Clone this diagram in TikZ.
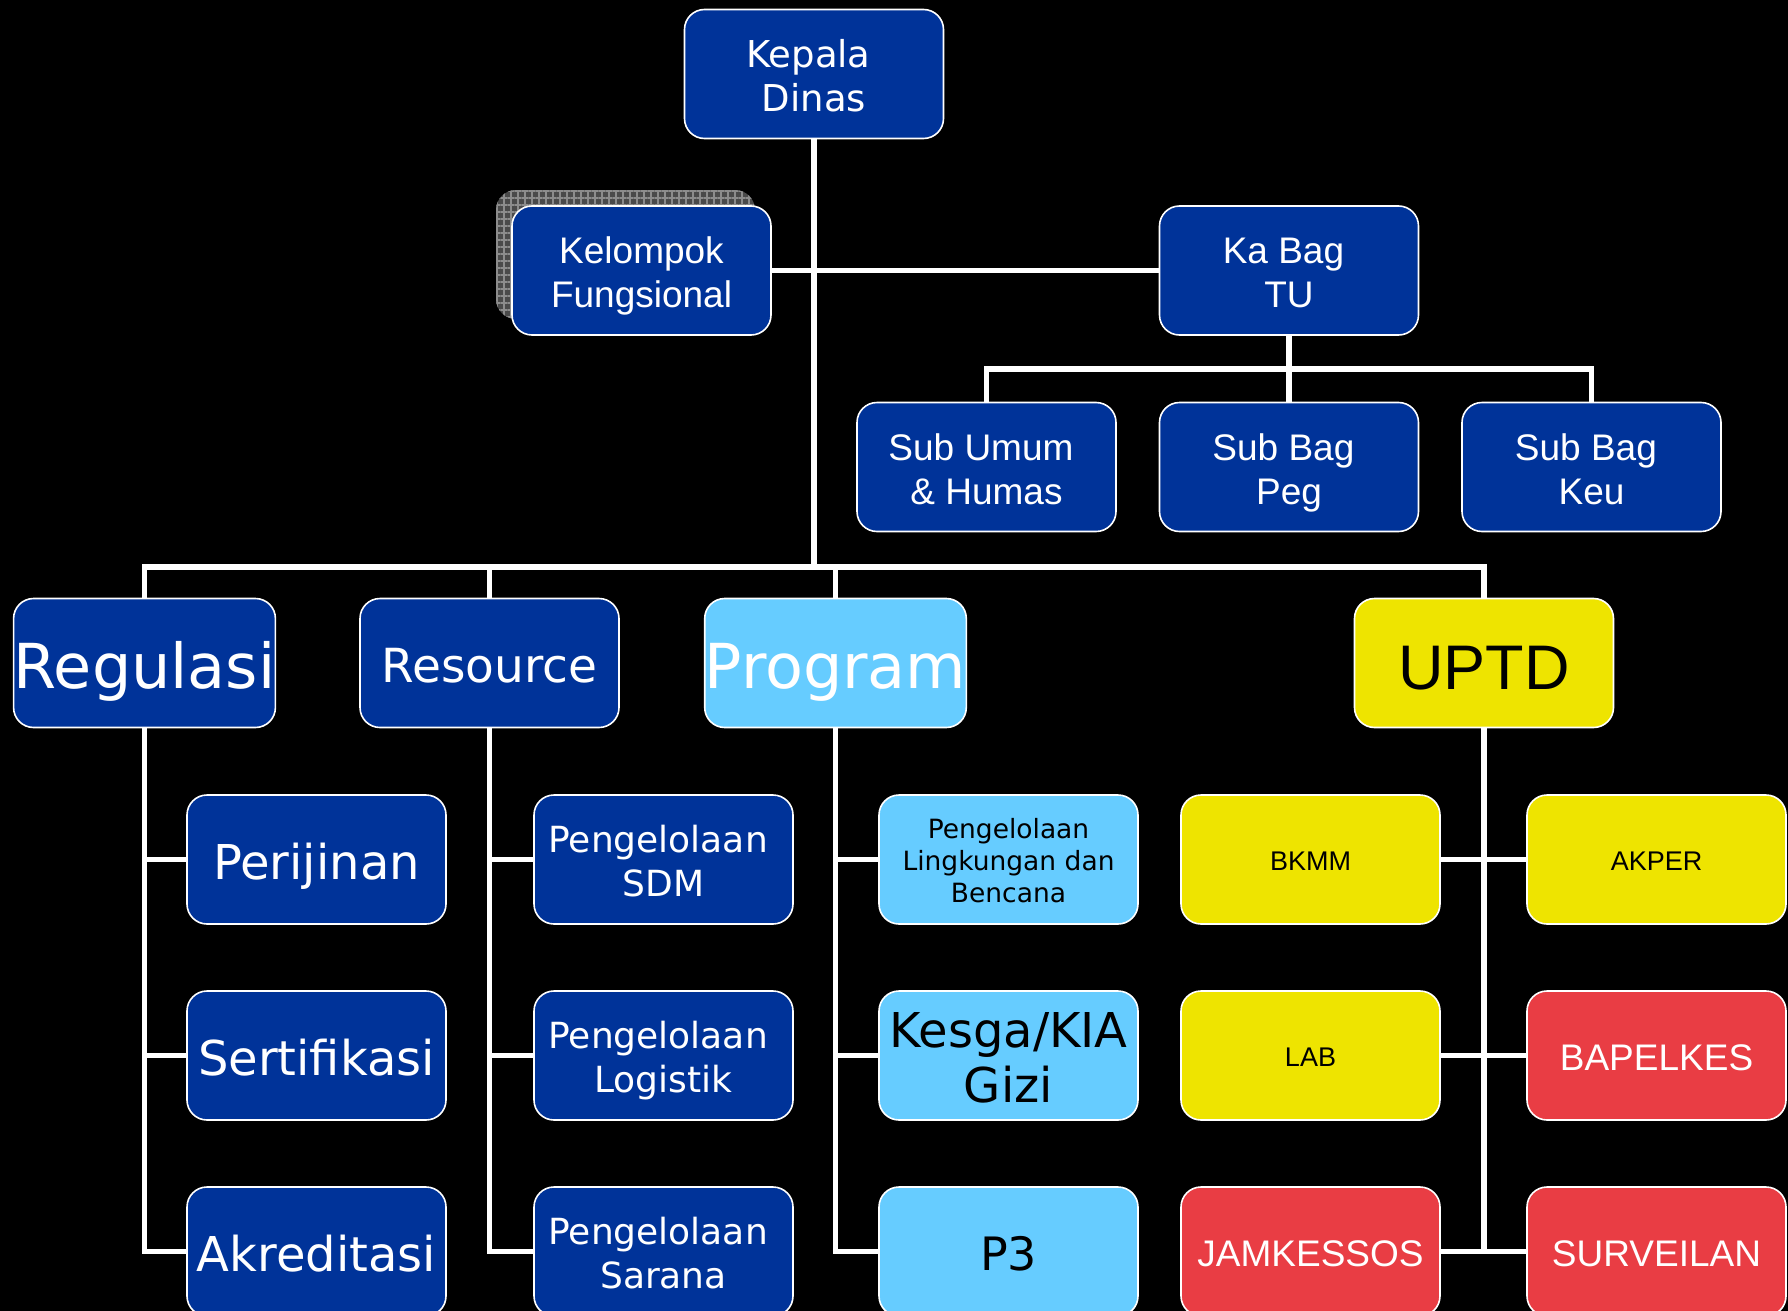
\documentclass[tikz,border=0pt]{standalone}
\usepackage{fontspec}
\setmainfont{DejaVu Sans}
\newfontfamily\arialf{Liberation Sans}
\usetikzlibrary{calc,patterns.meta}
\definecolor{navy}{HTML}{003399}
\definecolor{sky}{HTML}{66CCFF}
\definecolor{lemon}{HTML}{EEE400}
\definecolor{brick}{HTML}{E93D44}
\definecolor{shadowgray}{HTML}{4A4A4A}
\definecolor{gridgray}{HTML}{8C8C8C}
\newcommand\fs[2]{\fontsize{#1}{#2}\selectfont}
\newcommand\tsp{\hspace*{.3em}}
% struts giving every text block the same ascent and descent
\newcommand\topstrut{\rule{0pt}{1.05em}}
\newcommand\botstrut{\rule[-.22em]{0pt}{.22em}}

\begin{document}
\begin{tikzpicture}[x=1pt,y=-1pt,
  orgbox/.style={draw=white, line width=1.6pt, rounded corners=20pt,
    minimum width=259pt, minimum height=129pt, inner sep=0pt, align=center,
    execute at begin node=\topstrut, execute at end node=\botstrut},
  navybox/.style={orgbox, fill=navy, text=white},
  skybox/.style={orgbox, fill=sky, text=black},
  lemonbox/.style={orgbox, fill=lemon, text=black},
  brickbox/.style={orgbox, fill=brick, text=white},
  sans37/.style={font=\arialf\fs{37}{44}},
  sans27/.style={font=\arialf\fs{27}{32}},
  link/.style={draw=white, line width=5.5pt}
]
% page
\fill[black] (0,0) rectangle (1788,1311);
\useasboundingbox (0,0) rectangle (1788,1311);
\clip (0,0) rectangle (1788,1311);

% junction points of the buses
\coordinate (bus) at (814,567);
\coordinate (tub) at (1289,369);

% top level
\node[navybox, font=\fs{37}{44}] (kd) at (814,74) {\topstrut Kepala\tsp\\Dinas};
\node[navybox, sans37] (kb) at (1289,270.5) {\topstrut Ka Bag\tsp\\TU};
\node[navybox, sans37] (su) at (986.5,467) {\topstrut Sub Umum\tsp\\\& Humas};
\node[navybox, sans37] (sp) at (1289,467) {\topstrut Sub Bag\tsp\\Peg};
\node[navybox, sans37] (sk) at (1591.5,467) {\topstrut Sub Bag\tsp\\Keu};

% divisions
\node[navybox, font=\fs{62}{74}] (reg) at (144.5,663) {Regulasi};
\node[navybox, font=\fs{47}{56}] (res) at (489.5,663) {Resource};
\node[skybox, text=white, font=\fs{62}{74}] (prog) at (835.5,663) {Program};
\node[lemonbox, font=\arialf\fs{63}{75}] (uptd) at (1484,663) {UPTD};

% connectors
\draw[link] (kd.south) -- (bus);
\draw[link] (reg.north) |- (bus) -| (uptd.north);
\draw[link] (res.north) -- (res.north |- bus);
\draw[link] (prog.north) -- (prog.north |- bus);
\draw[link] (kb.south) -- (tub);
\draw[link] (su.north) |- (tub) -| (sk.north);
\draw[link] (sp.north) -- (tub);

% Regulasi
\node[navybox, font=\fs{48}{58}] (per) at (316.5,859.5) {Perijinan};
\node[navybox, font=\fs{48}{58}] (ser) at (316.5,1055.5) {Sertifikasi};
\node[navybox, font=\fs{48}{58}] (akr) at (316.5,1251.5) {Akreditasi};
% Resource
\node[navybox, font=\fs{36}{44}] (psdm) at (663.5,859.5) {\topstrut Pengelolaan\tsp\\SDM};
\node[navybox, font=\fs{36}{44}] (plog) at (663.5,1055.5) {\topstrut Pengelolaan\tsp\\Logistik};
\node[navybox, font=\fs{36}{44}] (psar) at (663.5,1251.5) {\topstrut Pengelolaan\tsp\\Sarana};
% Program
\node[skybox, font=\fs{26.5}{32}] (plb) at (1008.5,859.5) {\topstrut Pengelolaan\\Lingkungan dan\tsp\\Bencana};
\node[skybox, font=\fs{48}{55}] (kes) at (1008.5,1055.5) {\topstrut Kesga/KIA\\Gizi};
\node[skybox, font=\fs{46}{55}] (p3) at (1008.5,1251.5) {P3};
% UPTD
\node[lemonbox, sans27] (bkmm) at (1310.5,859.5) {BKMM};
\node[lemonbox, sans27] (akp) at (1656.5,859.5) {AKPER};
\node[lemonbox, sans27] (lab) at (1310.5,1055.5) {LAB};
\node[brickbox, sans37] (bap) at (1656.5,1055.5) {BAPELKES};
\node[brickbox, sans37] (jam) at (1310.5,1251.5) {JAMKESSOS};
\node[brickbox, sans37] (surv) at (1656.5,1251.5) {SURVEILAN};

\draw[link] (reg.south) |- (per.west);
\draw[link] (reg.south) |- (ser.west);
\draw[link] (reg.south) |- (akr.west);
\draw[link] (res.south) |- (psdm.west);
\draw[link] (res.south) |- (plog.west);
\draw[link] (res.south) |- (psar.west);
\draw[link] (prog.south) |- (plb.west);
\draw[link] (prog.south) |- (kes.west);
\draw[link] (prog.south) |- (p3.west);
\draw[link] (uptd.south) -- (uptd.south |- jam.east);
\draw[link] (bkmm.east) -- (akp.west);
\draw[link] (lab.east) -- (bap.west);
\draw[link] (jam.east) -- (surv.west);

% Kelompok Fungsional with its hatched shadow
\coordinate (shnw) at (496,190);
\coordinate (shse) at (755,319);
\fill[shadowgray, rounded corners=20pt] (shnw) rectangle (shse);
\fill[pattern={Lines[angle=0,distance=7pt,line width=1.2pt]}, pattern color=gridgray, rounded corners=20pt] (shnw) rectangle (shse);
\fill[pattern={Lines[angle=90,distance=7pt,line width=1.2pt]}, pattern color=gridgray, rounded corners=20pt] (shnw) rectangle (shse);
\node[navybox, sans37] (kf) at (641.5,270.5) {\topstrut Kelompok\\Fungsional};
\draw[link] (kf.east) -- (kb.west);
\end{tikzpicture}
\end{document}
